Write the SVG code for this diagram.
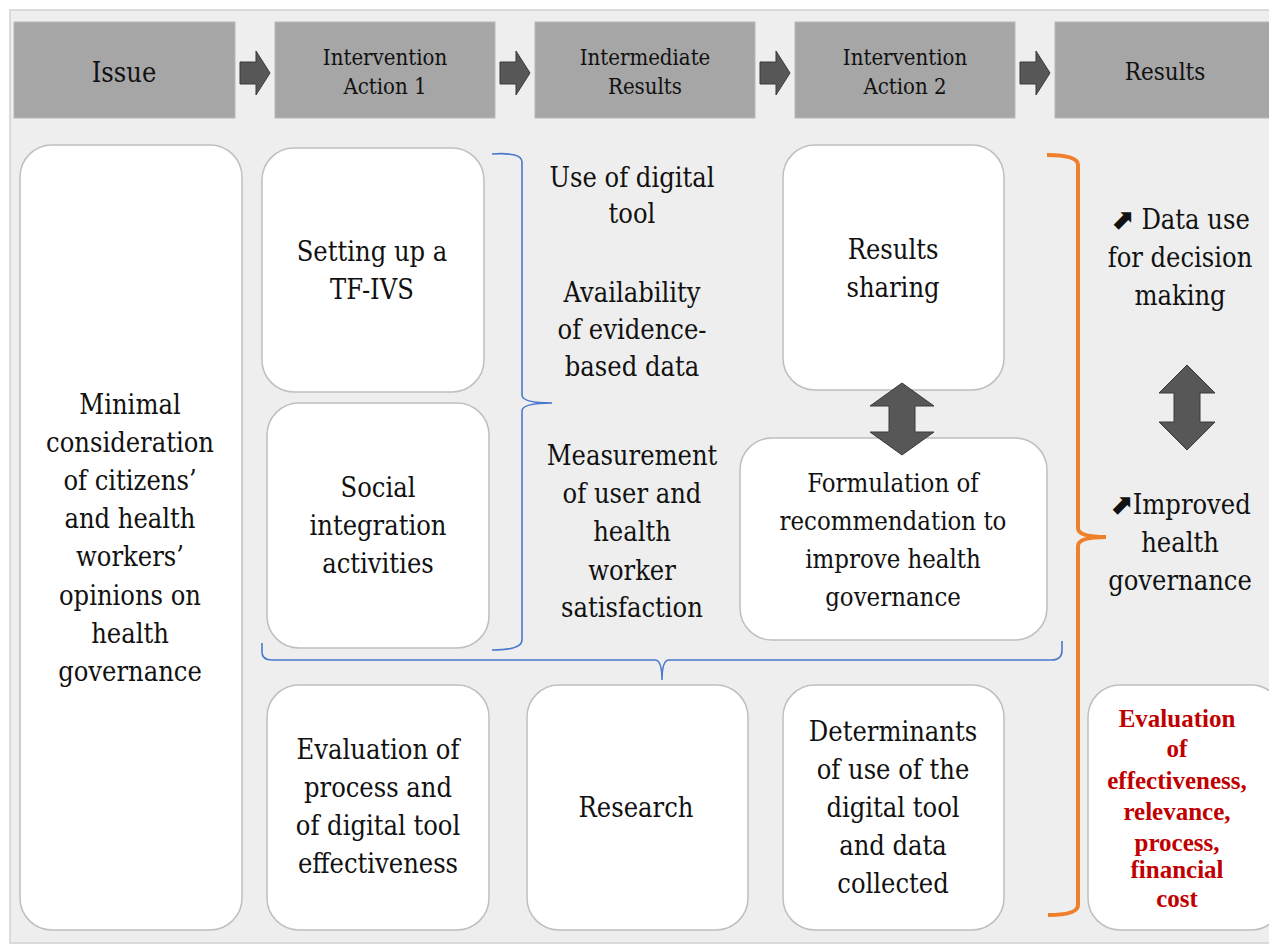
<svg xmlns="http://www.w3.org/2000/svg" width="1269" height="945" viewBox="0 0 1269 945">
<style>
.hdr{fill:#a6a6a6;stroke:#b8b8b8;stroke-width:1}
.box{fill:#ffffff;stroke:#bfbfbf;stroke-width:1.5}
.t{font-family:"DejaVu Serif Condensed","DejaVu Serif",serif;font-stretch:condensed;fill:#111;text-anchor:middle}
.b{font-size:27px}
.h{font-size:22px}
.red{font-family:"Liberation Serif",serif;fill:#c00000;font-weight:bold;font-size:25px;text-anchor:middle}
.arr{fill:#575757;stroke:#3a3a3a;stroke-width:1}
.blue{fill:none;stroke:#4a78cf;stroke-width:1.6}
.orange{fill:none;stroke:#ef7f2a;stroke-width:4}
.ne{font-family:"DejaVu Sans",sans-serif;font-weight:bold;font-stretch:normal}
</style>
<defs>
<path id="rarrow" d="M0,-11 H16 V-22 L30,0 L16,22 V11 H0 Z"/>
</defs>
<rect x="0" y="0" width="1269" height="945" fill="#ffffff"/>
<rect x="10" y="10" width="1265" height="933" fill="#eeeeee" stroke="#d2d2d2" stroke-width="1.5"/>

<g id="header">
<g id="h-issue"><rect class="hdr" x="14" y="22" width="221" height="96"/><text class="t" x="124" y="82" font-size="27">Issue</text></g>
<g id="h-ia1"><rect class="hdr" x="275" y="22" width="220" height="96"/><text class="t h" x="385" y="65">Intervention</text><text class="t h" x="385" y="94">Action 1</text></g>
<g id="h-ir"><rect class="hdr" x="535" y="22" width="220" height="96"/><text class="t h" x="645" y="65">Intermediate</text><text class="t h" x="645" y="94">Results</text></g>
<g id="h-ia2"><rect class="hdr" x="795" y="22" width="220" height="96"/><text class="t h" x="905" y="65">Intervention</text><text class="t h" x="905" y="94">Action 2</text></g>
<g id="h-res"><rect class="hdr" x="1055" y="22" width="220" height="96"/><text class="t" x="1165" y="80" font-size="24">Results</text></g>
</g>

<g id="n-minimal"><rect class="box" x="20" y="145" width="222" height="785" rx="32"/>
<text class="t b"><tspan x="130" y="414">Minimal</tspan><tspan x="130" y="452">consideration</tspan><tspan x="130" y="490">of citizens’</tspan><tspan x="130" y="528">and health</tspan><tspan x="130" y="566">workers’</tspan><tspan x="130" y="605">opinions on</tspan><tspan x="130" y="643">health</tspan><tspan x="130" y="681">governance</tspan></text></g>

<g id="n-tfivs"><rect class="box" x="262" y="148" width="222" height="244" rx="32"/>
<text class="t b"><tspan x="372" y="261">Setting up a</tspan><tspan x="372" y="299">TF-IVS</tspan></text></g>

<g id="n-social"><rect class="box" x="267" y="403" width="222" height="245" rx="32"/>
<text class="t b"><tspan x="378" y="497">Social</tspan><tspan x="378" y="535">integration</tspan><tspan x="378" y="573">activities</tspan></text></g>

<g id="n-intermediate">
<text class="t b"><tspan x="632" y="187">Use of digital</tspan><tspan x="632" y="223">tool</tspan><tspan x="632" y="302">Availability</tspan><tspan x="632" y="339">of evidence-</tspan><tspan x="632" y="376">based data</tspan><tspan x="632" y="465">Measurement</tspan><tspan x="632" y="503">of user and</tspan><tspan x="632" y="541">health</tspan><tspan x="632" y="580">worker</tspan><tspan x="632" y="617">satisfaction</tspan></text></g>

<g id="n-sharing"><rect class="box" x="783" y="145" width="221" height="245" rx="32"/>
<text class="t b"><tspan x="893" y="259">Results</tspan><tspan x="893" y="297">sharing</tspan></text></g>

<g id="n-formulation"><rect class="box" x="740" y="438" width="307" height="202" rx="32"/>
<text class="t" font-size="25.5"><tspan x="893" y="492">Formulation of</tspan><tspan x="893" y="530">recommendation to</tspan><tspan x="893" y="568">improve health</tspan><tspan x="893" y="606">governance</tspan></text></g>

<g id="n-evalprocess"><rect class="box" x="267" y="685" width="222" height="245" rx="32"/>
<text class="t b"><tspan x="378" y="759">Evaluation of</tspan><tspan x="378" y="797">process and</tspan><tspan x="378" y="835">of digital tool</tspan><tspan x="378" y="873">effectiveness</tspan></text></g>

<g id="n-research"><rect class="box" x="527" y="685" width="221" height="245" rx="32"/>
<text class="t b" x="636" y="817">Research</text></g>

<g id="n-determinants"><rect class="box" x="783" y="685" width="221" height="245" rx="32"/>
<text class="t b"><tspan x="893" y="741">Determinants</tspan><tspan x="893" y="779">of use of the</tspan><tspan x="893" y="817">digital tool</tspan><tspan x="893" y="855">and data</tspan><tspan x="893" y="893">collected</tspan></text></g>

<g id="n-datause">
<text class="t b"><tspan x="1180" y="229"><tspan class="ne" font-size="28">⬈</tspan> Data use</tspan><tspan x="1180" y="267">for decision</tspan><tspan x="1180" y="305">making</tspan></text></g>

<g id="n-improved">
<text class="t b"><tspan x="1180" y="514"><tspan class="ne" font-size="28">⬈</tspan>Improved</tspan><tspan x="1180" y="552">health</tspan><tspan x="1180" y="590">governance</tspan></text></g>

<g id="n-evalred"><rect class="box" x="1088" y="685" width="195" height="245" rx="32"/>
<text class="red"><tspan x="1177" y="727">Evaluation</tspan><tspan x="1177" y="757">of</tspan><tspan x="1177" y="789">effectiveness,</tspan><tspan x="1177" y="820">relevance,</tspan><tspan x="1177" y="851">process,</tspan><tspan x="1177" y="878">financial</tspan><tspan x="1177" y="907">cost</tspan></text></g>

<g id="connectors">
<use href="#rarrow" class="arr" x="240" y="73"/>
<use href="#rarrow" class="arr" x="500" y="73"/>
<use href="#rarrow" class="arr" x="760" y="73"/>
<use href="#rarrow" class="arr" x="1020" y="73"/>
<path class="arr" d="M902,383 L934,406 L915,406 L915,432 L934,432 L902,455 L870,432 L889,432 L889,406 L870,406 Z"/>
<path class="arr" d="M1187,365 L1215,393 L1200,393 L1200,422 L1215,422 L1187,450 L1159,422 L1174,422 L1174,393 L1159,393 Z"/>
<path class="blue" d="M492,154 Q522,152 522,162 V395 Q522,403 552,403 Q522,403 522,411 V640 Q522,650 492,650"/>
<path class="blue" d="M262,643 V652 Q262,660 272,660 H655 Q662,660 662,680 Q662,660 669,660 H1052 Q1062,660 1062,650 V641"/>
<path class="orange" d="M1047,155 Q1078,155 1078,165 V528 Q1078,537 1106,537 Q1078,537 1078,546 V905 Q1078,915 1048,915"/>
</g>
</svg>
